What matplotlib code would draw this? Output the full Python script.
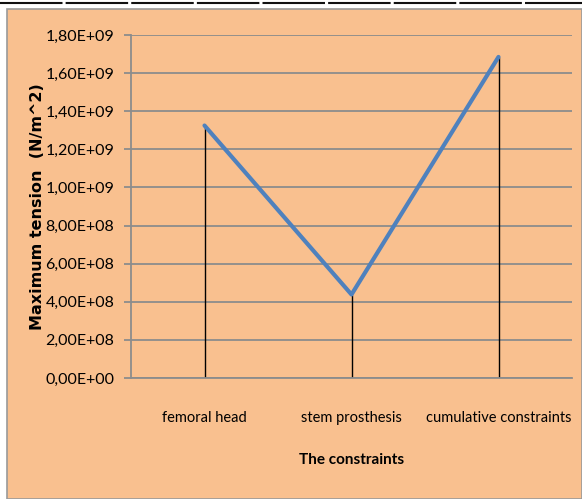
import matplotlib
matplotlib.use('Agg')
import matplotlib.pyplot as plt
from matplotlib.patches import Rectangle
from matplotlib.lines import Line2D
from matplotlib.ticker import FuncFormatter, MultipleLocator

categories = ['femoral head', 'stem prosthesis', 'cumulative constraints']
max_tension = [1.325e9, 0.438e9, 1.685e9]

NARROW = ['Lato', 'DejaVu Sans']

W, H = 582, 499
fig = plt.figure(figsize=(W / 100, H / 100), dpi=100)
fig.patch.set_facecolor('white')

# orange chart area + top rule
fig.add_artist(Rectangle((7 / W, 0), 1 - 7 / W, (H - 9) / H, transform=fig.transFigure,
                         facecolor='#F9C08F', edgecolor='#9a9a9a', lw=1.2, zorder=0))
fig.add_artist(Line2D([0, 1], [1 - 2.5 / H, 1 - 2.5 / H], transform=fig.transFigure,
                      color='#111111', lw=1.5, linestyle=(0, (30, 1.5))))

ax = fig.add_axes([131 / W, 121 / H, 441 / W, 343 / H])
ax.set_facecolor('none')

x = list(range(len(categories)))
ax.vlines(x, 0, max_tension, color='black', lw=1, zorder=2)
ax.plot(x, max_tension, color='#4F81BD', lw=3, zorder=3, solid_capstyle='round')

ax.set_xlim(-0.5, len(categories) - 0.5)
ax.set_ylim(0, 1.8e9)
ax.yaxis.set_major_locator(MultipleLocator(2e8))
ax.yaxis.set_major_formatter(FuncFormatter(lambda v, p: f'{v:.2E}'.replace('.', ',')))
ax.grid(axis='y', color='#8c8c8c', lw=1.3, zorder=1)

ax.set_xticks(x)
ax.set_xticklabels(categories, fontsize=10.5, family=NARROW)
ax.tick_params(axis='x', length=0, pad=24)
ax.tick_params(axis='y', length=5, color='#8c8c8c', width=1.3, pad=7, labelsize=11.5)
for t in ax.get_yticklabels():
    t.set_family(NARROW)

for s in ['top', 'right']:
    ax.spines[s].set_visible(False)
for s in ['left', 'bottom']:
    ax.spines[s].set_color('#8c8c8c')
    ax.spines[s].set_linewidth(1.3)

ax.set_xlabel('The constraints', fontsize=11, family=NARROW, fontweight='bold')
ax.xaxis.set_label_coords(0.5, -75 / 343)
ax.set_ylabel('Maximum tension  (N/m^2)', fontsize=11.5, fontweight='bold')
ax.yaxis.set_label_coords(-86 / 441, 0.5)

fig.savefig('out.png', dpi=100)
